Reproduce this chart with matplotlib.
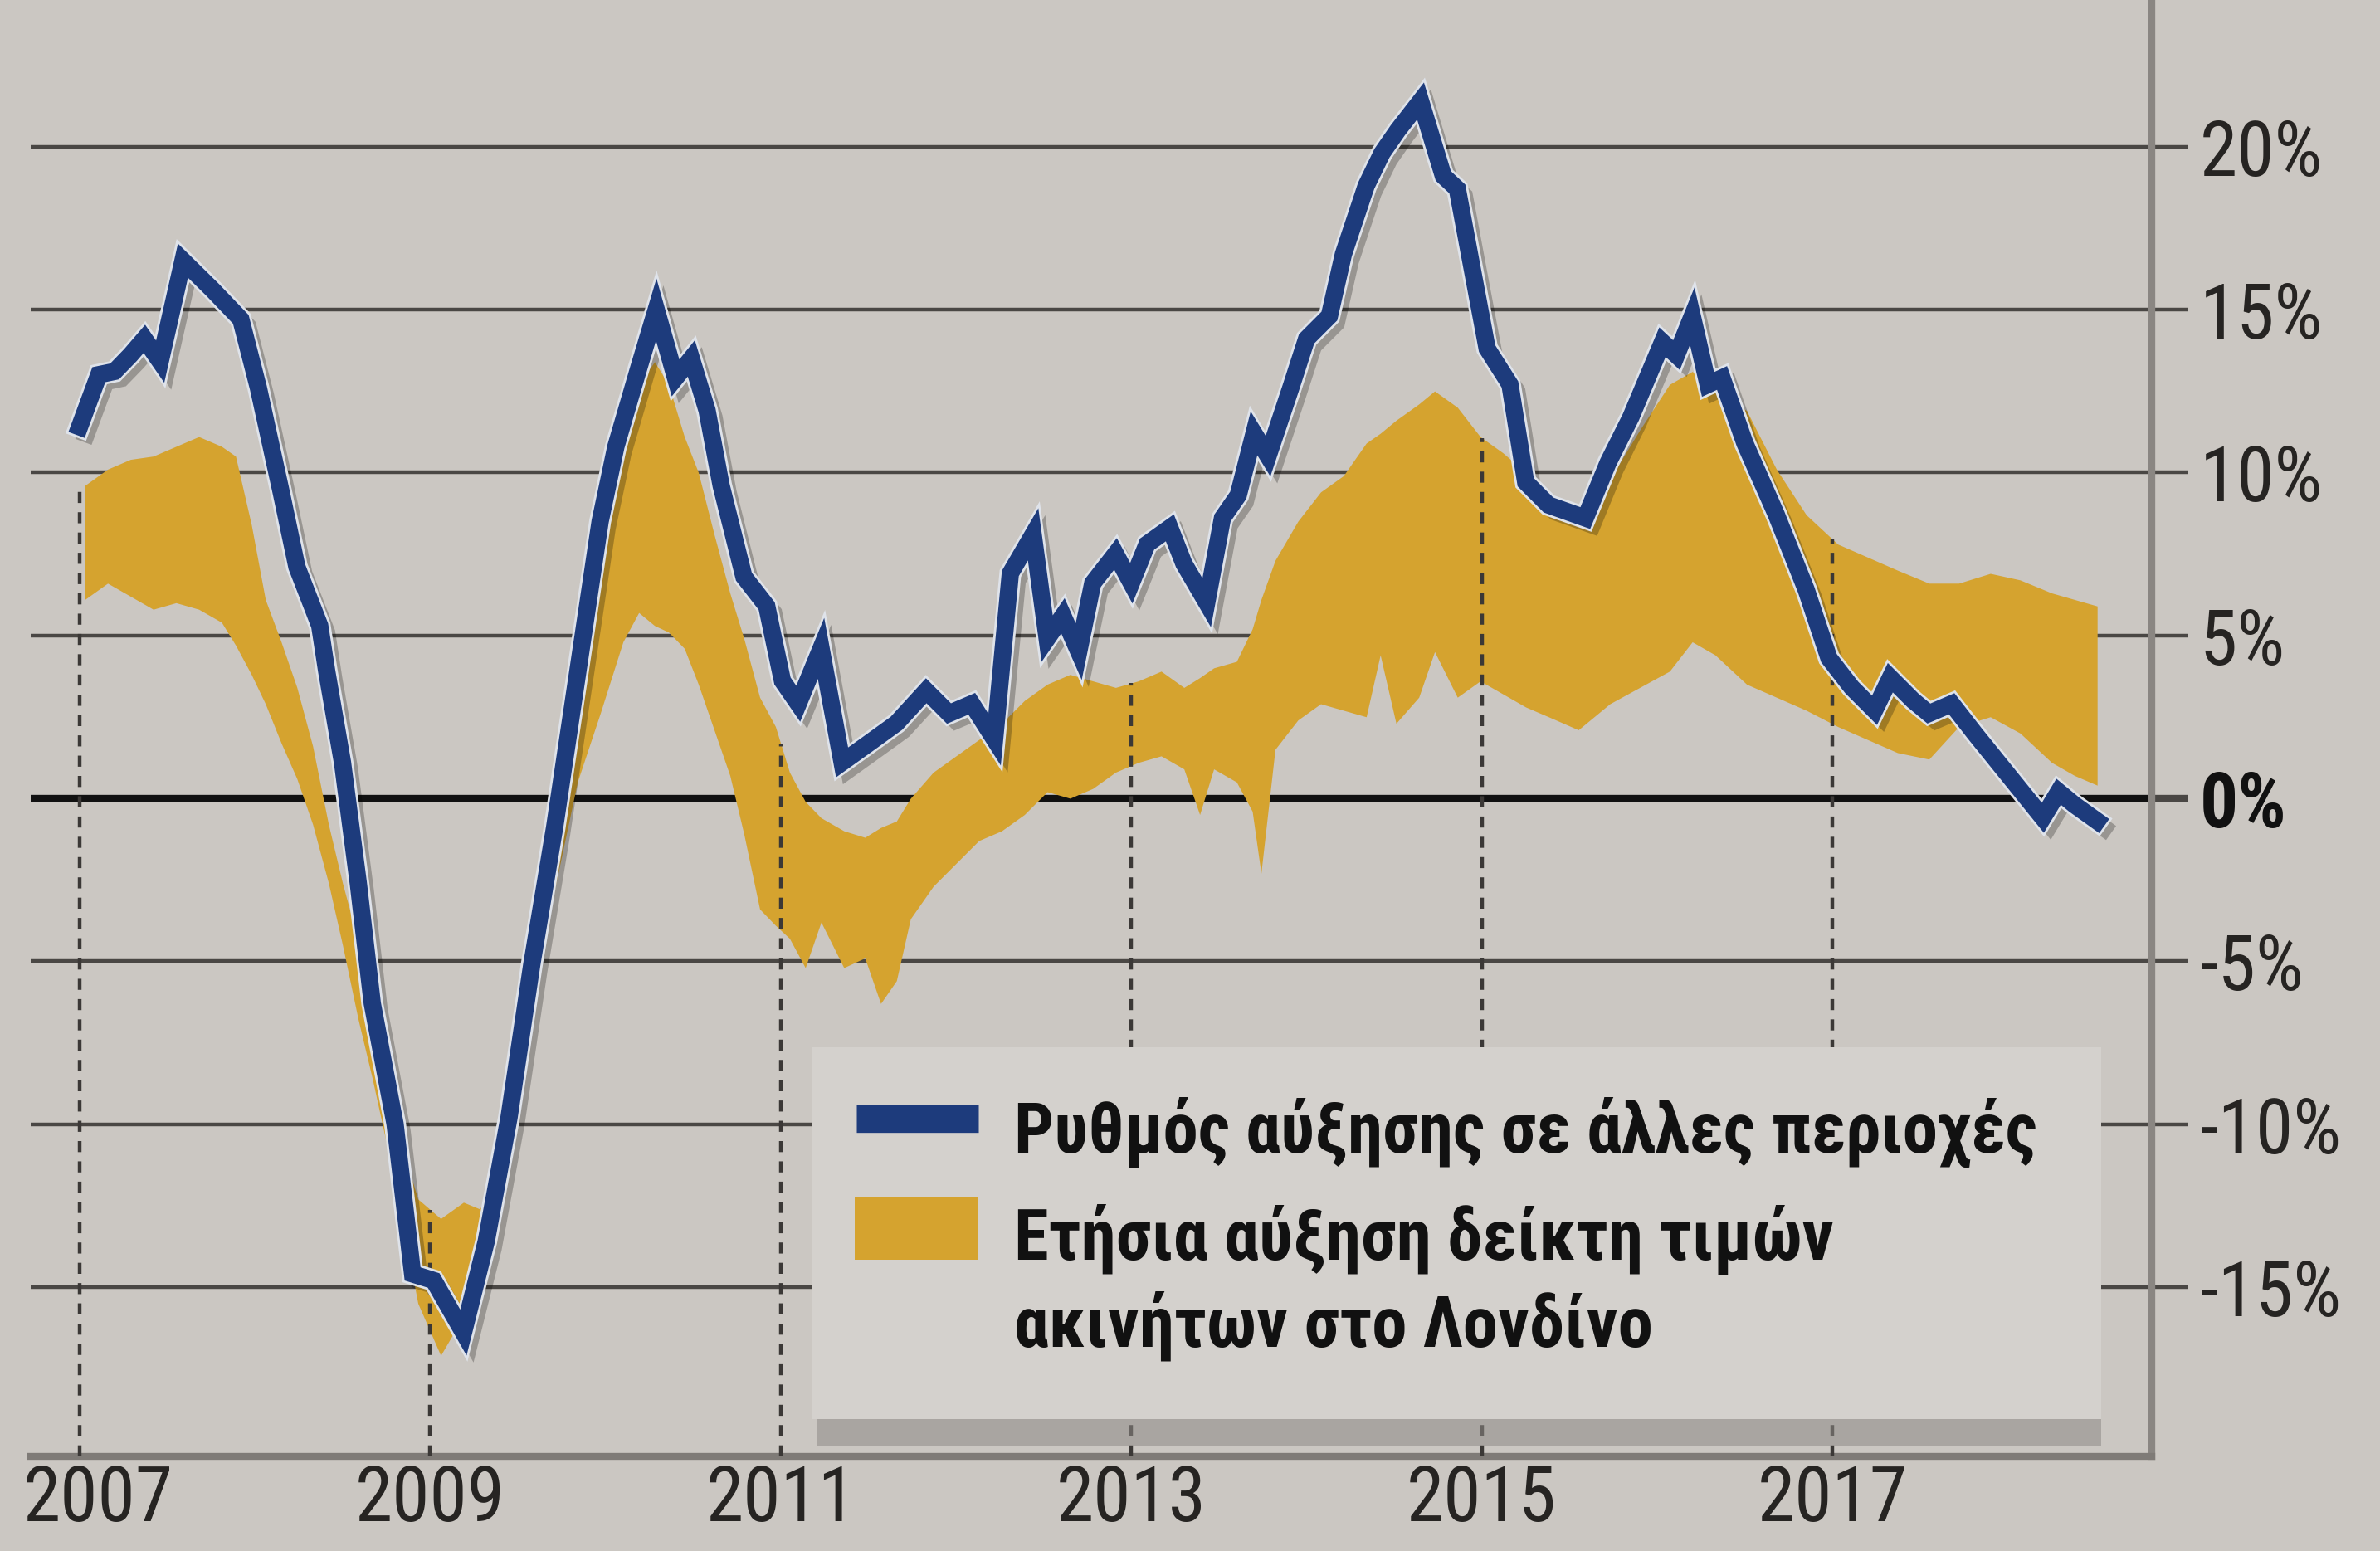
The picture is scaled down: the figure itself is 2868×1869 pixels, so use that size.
import numpy as np
import matplotlib
matplotlib.use("Agg")
import matplotlib.pyplot as plt
from matplotlib import patheffects as pe
from matplotlib import font_manager as fm
from matplotlib.ft2font import FT2Font
from matplotlib.patches import Rectangle
from matplotlib.lines import Line2D
from matplotlib.transforms import ScaledTranslation


# ===================== Data =====================
# Growth rate in other regions (blue line), % per year
OTHER_YEAR = [
    2007.00, 2007.11, 2007.20, 2007.29, 2007.37, 2007.46, 2007.59, 2007.76, 2007.92,
    2008.02, 2008.15, 2008.24, 2008.37, 2008.41, 2008.50, 2008.59, 2008.67, 2008.80, 2008.90,
    2009.02, 2009.19, 2009.32, 2009.45, 2009.58, 2009.71, 2009.84, 2009.97,
    2010.06, 2010.19, 2010.29, 2010.40, 2010.49, 2010.58, 2010.66, 2010.79, 2010.92,
    2011.01, 2011.10, 2011.23, 2011.35, 2011.48, 2011.66, 2011.83, 2011.96,
    2012.09, 2012.22, 2012.31, 2012.44, 2012.52, 2012.61, 2012.70, 2012.78, 2012.91,
    2013.00, 2013.09, 2013.22, 2013.30, 2013.43, 2013.52, 2013.61, 2013.70, 2013.78, 2013.91,
    2014.00, 2014.13, 2014.21, 2014.34, 2014.43, 2014.52, 2014.65, 2014.78, 2014.86, 2014.95,
    2015.03, 2015.16, 2015.25, 2015.38, 2015.59, 2015.72, 2015.85,
    2016.03, 2016.11, 2016.20, 2016.29, 2016.37, 2016.50, 2016.68, 2016.85, 2016.98,
    2017.11, 2017.24, 2017.33, 2017.46, 2017.55, 2017.68, 2017.81, 2017.99,
    2018.20, 2018.29, 2018.38, 2018.51,
]
OTHER_GROWTH = [
    11.4, 13.0, 13.1, 13.6, 14.1, 13.4, 16.5, 15.6, 14.7,
    12.6, 9.4, 7.1, 5.3, 3.9, 1.1, -2.6, -6.3, -10.0, -14.6,
    -14.8, -16.4, -13.6, -9.8, -5.1, -0.9, 3.8, 8.5,
    10.8, 13.2, 15.0, 12.9, 13.5, 11.9, 9.6, 6.8, 5.9,
    3.6, 2.9, 4.6, 1.1, 1.6, 2.3, 3.3, 2.6,
    2.9, 1.8, 6.9, 8.1, 4.9, 5.6, 4.5, 6.6, 7.5,
    6.6, 7.8, 8.3, 7.2, 6.0, 8.6, 9.3, 11.2, 10.5, 12.6,
    14.1, 14.8, 16.7, 18.8, 19.8, 20.5, 21.4, 19.1, 18.7, 16.1,
    13.8, 12.7, 9.7, 9.0, 8.6, 10.3, 11.7,
    14.0, 13.6, 14.8, 12.7, 12.9, 10.9, 8.7, 6.4, 4.3,
    3.4, 2.7, 3.7, 3.0, 2.6, 2.9, 2.0, 0.8,
    -0.6, 0.2, -0.2, -0.7,
]

# Annual growth of London house price index (gold band: low / high edge), %
LONDON_YEAR = [
    2007.03, 2007.16, 2007.29, 2007.42, 2007.55, 2007.68, 2007.81, 2007.89, 2007.98,
    2008.06, 2008.15, 2008.24, 2008.33, 2008.42, 2008.50, 2008.59, 2008.67, 2008.80, 2008.93,
    2009.06, 2009.19, 2009.28, 2009.36, 2009.45, 2009.58, 2009.71, 2009.84, 2009.97,
    2010.10, 2010.19, 2010.28, 2010.36, 2010.45, 2010.53, 2010.62, 2010.71, 2010.79, 2010.88, 2010.97,
    2011.05, 2011.14, 2011.23, 2011.36, 2011.48, 2011.57, 2011.66, 2011.74, 2011.87,
    2012.00, 2012.13, 2012.26, 2012.39, 2012.52, 2012.65, 2012.78, 2012.91,
    2013.04, 2013.17, 2013.30, 2013.39, 2013.47, 2013.60, 2013.69, 2013.74, 2013.82, 2013.95,
    2014.08, 2014.21, 2014.34, 2014.42, 2014.51, 2014.64, 2014.73, 2014.86, 2014.99,
    2015.12, 2015.25, 2015.38, 2015.55, 2015.73, 2015.90,
    2016.07, 2016.20, 2016.33, 2016.51, 2016.68, 2016.85,
    2017.03, 2017.20, 2017.37, 2017.55, 2017.72, 2017.90,
    2018.07, 2018.25, 2018.38, 2018.51,
]
LONDON_HIGH = [
    9.6, 10.1, 10.4, 10.5, 10.8, 11.1, 10.8, 10.5, 8.4,
    6.1, 4.8, 3.4, 1.6, -0.8, -2.6, -4.4, -6.7, -10.0, -12.3,
    -12.9, -12.4, -12.6, -12.2, -8.9, -4.7, -0.5, 4.2, 9.4,
    11.3, 12.7, 13.4, 12.7, 11.1, 10.0, 8.1, 6.3, 4.9, 3.1, 2.2,
    0.8, -0.1, -0.6, -1.0, -1.2, -0.9, -0.7, 0.0, 0.8,
    1.3, 1.8, 2.3, 3.0, 3.5, 3.8, 3.6, 3.4,
    3.6, 3.9, 3.4, 3.7, 4.0, 4.2, 5.2, 6.1, 7.3, 8.5,
    9.4, 9.9, 10.9, 11.2, 11.6, 12.1, 12.5, 12.0, 11.1,
    10.6, 10.0, 9.1, 8.6, 9.8, 11.3,
    12.7, 13.1, 12.5, 11.9, 10.1, 8.7,
    7.8, 7.4, 7.0, 6.6, 6.6, 6.9,
    6.7, 6.3, 6.1, 5.9,
]
LONDON_LOW = [
    6.1, 6.6, 6.2, 5.8, 6.0, 5.8, 5.4, 4.7, 3.8,
    2.9, 1.7, 0.6, -0.8, -2.6, -4.5, -6.8, -8.6, -11.8, -15.5,
    -17.1, -15.9, -14.5, -13.6, -10.7, -6.5, -2.8, 0.5, 2.6,
    4.8, 5.7, 5.3, 5.1, 4.6, 3.5, 2.1, 0.7, -1.1, -3.4, -3.9,
    -4.3, -5.2, -3.8, -5.2, -4.9, -6.3, -5.6, -3.7, -2.7,
    -2.0, -1.3, -1.0, -0.5, 0.2, 0.0, 0.3, 0.8,
    1.1, 1.3, 0.9, -0.5, 0.9, 0.5, -0.4, -2.3, 1.5, 2.4,
    2.9, 2.7, 2.5, 4.4, 2.3, 3.1, 4.5, 3.1, 3.6,
    3.2, 2.8, 2.5, 2.1, 2.9, 3.4,
    3.9, 4.8, 4.4, 3.5, 3.1, 2.7,
    2.2, 1.8, 1.4, 1.2, 2.2, 2.5,
    2.0, 1.1, 0.7, 0.4,
]

Y_TICKS = [-15, -10, -5, 0, 5, 10, 15, 20]
Y_TICK_LABELS = ["-15%", "-10%", "-5%", "0%", "5%", "10%", "15%", "20%"]
YEAR_TICKS = [2007, 2009, 2011, 2013, 2015, 2017]

LABEL_OTHER = "Ρυθμός αύξησης σε άλλες περιοχές"
LABEL_LONDON = "Ετήσια αύξηση δείκτη τιμών\nακινήτων στο Λονδίνο"


# ===================== Settings =====================
OUT_FIG = "out.png"
FIGSIZE = (14.34, 9.345)
DPI = 200

PAPER = "#cbc7c2"
BOX = "#d4d1cd"
BLUE = "#1d3b7c"
GOLD = "#d5a32f"
GRID = "#4a4744"
TEXT = "#262422"

FONT_CANDIDATES = [
    "Roboto Condensed", "Fira Sans Condensed", "Open Sans Condensed",
    "Noto Sans Condensed", "Sofia Sans Condensed", "Liberation Sans Narrow",
    "Roboto",
]

XLIM = (2006.72, 2018.82)
YLIM = (-20.2, 24.5)


def pick_font(candidates, sample=LABEL_OTHER + LABEL_LONDON + "0123456789%"):
    """First installed condensed family that also has the Greek glyphs."""
    for name in candidates:
        try:
            path = fm.findfont(fm.FontProperties(family=name, weight="bold"),
                               fallback_to_default=False)
        except ValueError:
            continue
        cmap = FT2Font(path).get_charmap()
        if all(ord(c) in cmap for c in sample if not c.isspace()):
            return name
    return "DejaVu Sans"


FONT = [pick_font(FONT_CANDIDATES), "DejaVu Sans"]


def draw_legend(fig, ax):
    # light box with a soft shadow under its lower edge
    shadow = Rectangle((0.343, 0.068), 0.540, 0.022, transform=fig.transFigure,
                       facecolor="#8e8a86", edgecolor="none", alpha=0.55,
                       zorder=2.9, clip_on=False)
    box = Rectangle((0.341, 0.085), 0.542, 0.240, transform=fig.transFigure,
                    facecolor=BOX, edgecolor="none", zorder=3, clip_on=False)
    ax.add_patch(shadow)
    ax.add_patch(box)

    swatch_line = Line2D([0.360, 0.411], [0.279, 0.279], transform=fig.transFigure,
                         color=BLUE, lw=12, solid_capstyle="butt", zorder=5)
    ax.add_line(swatch_line)
    swatch_box = Rectangle((0.359, 0.188), 0.052, 0.040, transform=fig.transFigure,
                           facecolor=GOLD, edgecolor="none", zorder=5, clip_on=False)
    ax.add_patch(swatch_box)

    fig.text(0.426, 0.270, LABEL_OTHER, family=FONT, fontsize=30.5, fontweight="bold",
             color="#111111", va="center", ha="left", zorder=6)
    fig.text(0.426, 0.173, LABEL_LONDON, family=FONT, fontsize=30.5, fontweight="bold",
             color="#111111", va="center", ha="left", linespacing=1.3, zorder=6)


def main():
    fig = plt.figure(figsize=FIGSIZE, dpi=DPI, facecolor=PAPER)
    ax = fig.add_axes([0.0128, 0.061, 0.904 - 0.0128, 0.939])
    ax.set_facecolor(PAPER)
    ax.set_xlim(*XLIM)
    ax.set_ylim(*YLIM)

    # horizontal grid lines, 0% line heavier
    for v in Y_TICKS:
        if v == 0:
            ax.axhline(v, color="#111111", lw=3.0, zorder=1)
        else:
            ax.axhline(v, color=GRID, lw=1.6, zorder=1)

    # London band
    ax.fill_between(LONDON_YEAR, LONDON_LOW, LONDON_HIGH, color=GOLD, lw=0, zorder=2)

    # dashed year markers, up to the top of the band
    for yr in YEAR_TICKS:
        top = np.interp(yr, LONDON_YEAR, LONDON_HIGH)
        ax.vlines(yr, YLIM[0], top, colors="#3b3836", linestyles=(0, (3, 2.5)),
                  lw=1.6, zorder=2.6)

    # blue line with light edge and soft shadow
    ax.plot(OTHER_YEAR, OTHER_GROWTH, color=BLUE, lw=7.5, solid_joinstyle="miter",
            zorder=4,
            path_effects=[pe.SimpleLineShadow(offset=(3, -3), shadow_color="k", alpha=0.25),
                          pe.Stroke(linewidth=9.5, foreground="#dfe3ea"),
                          pe.Normal()])

    # axes frame
    for side in ["left", "top"]:
        ax.spines[side].set_visible(False)
    ax.spines["right"].set_color("#8a8682")
    ax.spines["right"].set_linewidth(3)
    ax.spines["bottom"].set_color("#7f7b77")
    ax.spines["bottom"].set_linewidth(3)

    # y ticks on the right
    ax.yaxis.tick_right()
    ax.set_yticks(Y_TICKS)
    ax.set_yticklabels(Y_TICK_LABELS, family=FONT, fontsize=33, color=TEXT)
    ax.tick_params(axis="y", length=16, width=1.6, color=GRID, pad=5)
    for tick, v in zip(ax.yaxis.get_major_ticks(), Y_TICKS):
        if v == 0:
            tick.tick2line.set_color("#111111")
            tick.tick2line.set_markeredgewidth(3)
            tick.label2.set_fontweight("bold")
            tick.label2.set_color("#111111")

    # year labels
    ax.set_xticks(YEAR_TICKS)
    ax.set_xticklabels([str(y) for y in YEAR_TICKS], family=FONT, fontsize=33, color=TEXT)
    ax.tick_params(axis="x", length=0, pad=3)
    first = ax.get_xticklabels()[0]
    first.set_transform(first.get_transform() + ScaledTranslation(0.11, 0, fig.dpi_scale_trans))

    draw_legend(fig, ax)

    fig.savefig(OUT_FIG, dpi=DPI, facecolor=PAPER)
    plt.close(fig)


if __name__ == "__main__":
    main()
